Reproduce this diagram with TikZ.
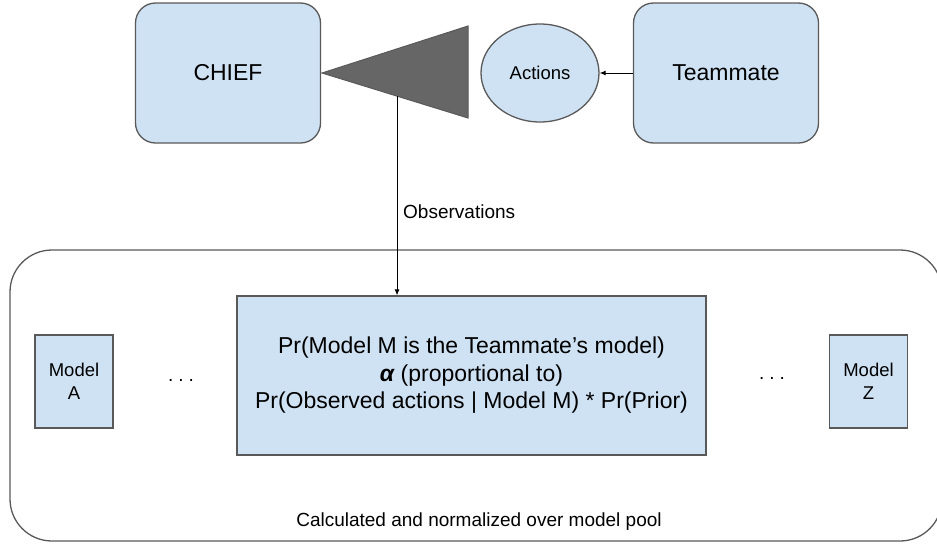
\documentclass[tikz,border=0pt]{standalone}
\usepackage{fontspec}
\setmainfont{Liberation Sans}
\usetikzlibrary{shapes.geometric,arrows.meta,calc}

\definecolor{paleblue}{HTML}{CFE2F3}
\definecolor{edgegray}{HTML}{595959}

\begin{document}
\begin{tikzpicture}[x=1pt, y=-1pt,
  agentnode/.style={shape=rectangle, rounded corners=20, draw=edgegray, line width=1.3, fill=paleblue, minimum width=185, minimum height=140, font=\fontsize{23}{27}\selectfont },
  actionnode/.style={shape=ellipse, draw=edgegray, line width=1.3, fill=paleblue, minimum width=118, minimum height=98, inner sep=0, font=\fontsize{18.5}{22}\selectfont },
  modelnode/.style={shape=rectangle, draw=edgegray, line width=1.3, fill=paleblue, minimum width=78, minimum height=93, align=center, inner sep=0, font=\fontsize{18.5}{23}\selectfont },
  bayesnode/.style={shape=rectangle, draw=edgegray, line width=1.3, fill=paleblue, minimum width=469, minimum height=159, align=center, inner sep=0, font=\fontsize{23}{27.5}\selectfont },
  poolnode/.style={shape=rectangle, rounded corners=42, draw=edgegray, line width=1.3, minimum width=932, minimum height=291 },
  plaintext/.style={inner sep=0, font=\fontsize{19}{23}\selectfont },
  link/.style={draw=black, line width=0.9, -{Latex[length=6pt,width=5pt]} },
]
\useasboundingbox (0,0) rectangle (937,544);

%%% agents
\node[agentnode] (chief) at (228,73) {CHIEF};
\node[agentnode] (teammate) at (726,73) {Teammate};
\node[actionnode] (actions) at (540,73) {Actions};

%%% observation cone
\coordinate (conetip) at (322,73);
\coordinate (conetop) at (468,26);
\coordinate (conebot) at (468,118);
\filldraw[fill=black!60, draw=edgegray, line width=1] (conetip) -- (conetop) -- (conebot) -- cycle;
\coordinate (obs) at ($(conetip)!0.514!(conebot)$);

%%% model pool
\node[poolnode] (pool) at (476,395.5) {};
\node[bayesnode] (bayes) at (471.5,375.5) {Pr(Model M is the Teammate’s model)\\
  {\bfseries\itshape α} (proportional to)\\
  Pr(Observed actions | Model M) * Pr(Prior)};
\node[modelnode] (modela) at (74,381.5) {Model\\A};
\node[modelnode] (modelz) at (868.5,381.5) {Model\\Z};
\node[plaintext] (dotsa) at (181,380) {.\hspace{5pt}.\hspace{5pt}.};
\node[plaintext] (dotsz) at (772,378) {.\hspace{5pt}.\hspace{5pt}.};
\node[plaintext] (poolcaption) at (479,522) {Calculated and normalized over model pool};

%%% connectors
\draw[link] (teammate.west) -- (actions.east);
\draw[link] (obs) -- (obs |- bayes.north);
\node[plaintext, anchor=west] (obslabel) at (403,212) {Observations};

\end{tikzpicture}
\end{document}
